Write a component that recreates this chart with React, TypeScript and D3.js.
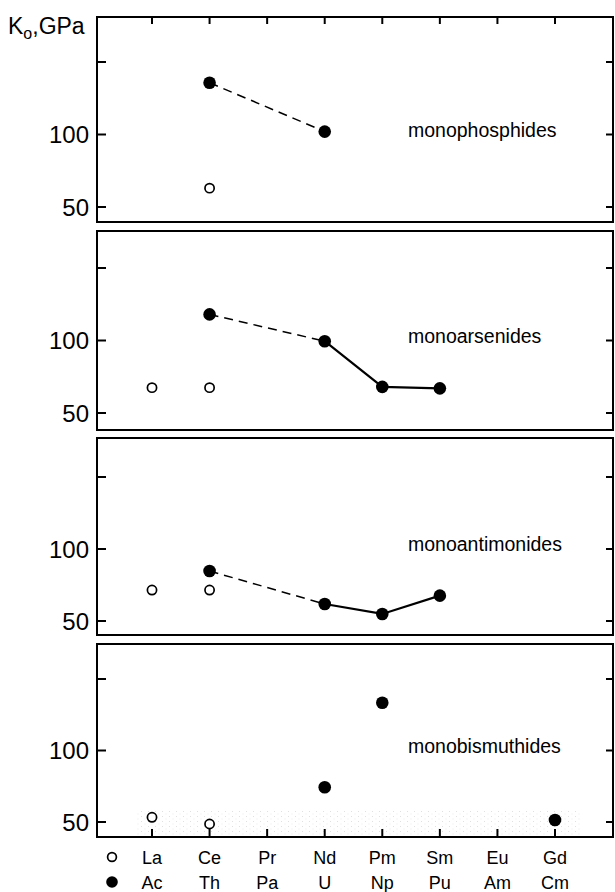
import React from 'react';
import * as d3 from 'd3';

// x categories: rare earths (open symbols) and actinides (filled symbols)
const lanthanides = ['La', 'Ce', 'Pr', 'Nd', 'Pm', 'Sm', 'Eu', 'Gd'];
const actinides = ['Ac', 'Th', 'Pa', 'U', 'Np', 'Pu', 'Am', 'Cm'];

const compounds = ['monophosphides', 'monoarsenides', 'monoantimonides', 'monobismuthides'];

// bulk modulus K0 (GPa)
const lnValues: [string, number][][] = [
  [['Ce', 63]],
  [['La', 67.5], ['Ce', 67.5]],
  [['La', 71.5], ['Ce', 71.5]],
  [['La', 53.3], ['Ce', 48.6]],
];
const anValues: [string, number][][] = [
  [['Th', 135.7], ['U', 102]],
  [['Th', 118], ['U', 99.5], ['Np', 68], ['Pu', 67]],
  [['Th', 84.7], ['U', 61.8], ['Np', 54.9], ['Pu', 67.6]],
  [['U', 74.3], ['Np', 133.4], ['Cm', 51.4]],
];
// which actinide points are joined, dashed and solid
const dashedLinks: string[][] = [['Th', 'U'], ['Th', 'U'], ['Th', 'U'], []];
const solidLinks: string[][] = [[], ['U', 'Np', 'Pu'], ['U', 'Np', 'Pu'], []];

const yTicks = [50, 100, 150];
const yLabels = [50, 100];

// panel layout (pixels)
const panelTop = [17, 231, 438, 644];
const panelBottom = [222, 430, 635, 837];
const y50 = [207, 413, 621, 822];
const y150 = [62, 268, 477, 679];

const left = 97;
const right = 613;
const font = "'Liberation Sans', Arial, sans-serif";

export default function App() {
  const x = d3.scaleLinear().domain([0, 7]).range([152, 555]);
  const lnIdx = (s: string) => lanthanides.indexOf(s);
  const anIdx = (s: string) => actinides.indexOf(s);

  return (
    <svg width={615} height={892} style={{ position: 'absolute', left: 0, top: 0, background: '#fff' }}>
      <defs>
        <pattern id="stip" width="7" height="5" patternUnits="userSpaceOnUse">
          <rect x="1" y="1" width="1" height="1" fill="#999" />
          <rect x="4.5" y="3.5" width="1" height="1" fill="#bbb" />
        </pattern>
      </defs>
      <rect width={615} height={892} fill="#fff" />
      <text x={8} y={34} fontFamily={font} fontSize={23} fill="#000">
        K<tspan fontSize={16} dy={5}>o</tspan><tspan dy={-5}>,GPa</tspan>
      </text>
      {compounds.map((name, p) => {
        const y = d3.scaleLinear().domain([50, 150]).range([y50[p], y150[p]]);
        const top = panelTop[p];
        const bottom = panelBottom[p];
        const anMap = new Map(anValues[p]);
        const line = d3
          .line<string>()
          .x(d => x(anIdx(d)))
          .y(d => y(anMap.get(d)!));
        return (
          <g key={name}>
            {p === 3 && (
              <rect x={135} y={810} width={445} height={bottom - 811} fill="url(#stip)" opacity={0.3} />
            )}
            <rect
              x={left}
              y={top}
              width={right - left}
              height={bottom - top}
              fill="none"
              stroke="#000"
              strokeWidth={2}
            />
            {yTicks.map(t => (
              <g key={t}>
                <line x1={left} x2={left + 9} y1={y(t)} y2={y(t)} stroke="#000" strokeWidth={2} />
                <line x1={right - 7} x2={right} y1={y(t)} y2={y(t)} stroke="#000" strokeWidth={2} />
              </g>
            ))}
            {yLabels.map(t => (
              <text
                key={t}
                x={89}
                y={y(t)}
                dy="0.36em"
                textAnchor="end"
                fontFamily={font}
                fontSize={24}
                fill="#000"
              >
                {t}
              </text>
            ))}
            {p === 0 &&
              lanthanides.map((_, i) => (
                <line key={i} x1={x(i)} x2={x(i)} y1={top} y2={top + 7} stroke="#000" strokeWidth={2} />
              ))}
            {p === 3 &&
              lanthanides.map((_, i) => (
                <line key={i} x1={x(i)} x2={x(i)} y1={bottom} y2={bottom - 8} stroke="#000" strokeWidth={2} />
              ))}
            {dashedLinks[p].length > 1 && (
              <path
                d={line(dashedLinks[p]) || ''}
                fill="none"
                stroke="#000"
                strokeWidth={1.5}
                strokeDasharray="9,6"
              />
            )}
            {solidLinks[p].length > 1 && (
              <path d={line(solidLinks[p]) || ''} fill="none" stroke="#000" strokeWidth={2.2} />
            )}
            {lnValues[p].map(([el, v]) => (
              <circle key={el} cx={x(lnIdx(el))} cy={y(v)} r={4.6} fill="#fff" stroke="#000" strokeWidth={1.7} />
            ))}
            {anValues[p].map(([el, v]) => (
              <circle key={el} cx={x(anIdx(el))} cy={y(v)} r={6.3} fill="#000" />
            ))}
            <text x={408} y={y(100) + 2} fontFamily={font} fontSize={19.5} fill="#000">
              {name}
            </text>
          </g>
        );
      })}
      <circle cx={112} cy={857} r={4.4} fill="#fff" stroke="#000" strokeWidth={1.7} />
      <circle cx={112} cy={882} r={5.8} fill="#000" />
      {lanthanides.map((s, i) => (
        <text key={s} x={x(i)} y={864} textAnchor="middle" fontFamily={font} fontSize={18} fill="#000">
          {s}
        </text>
      ))}
      {actinides.map((s, i) => (
        <text key={s} x={x(i)} y={889} textAnchor="middle" fontFamily={font} fontSize={18} fill="#000">
          {s}
        </text>
      ))}
    </svg>
  );
}
